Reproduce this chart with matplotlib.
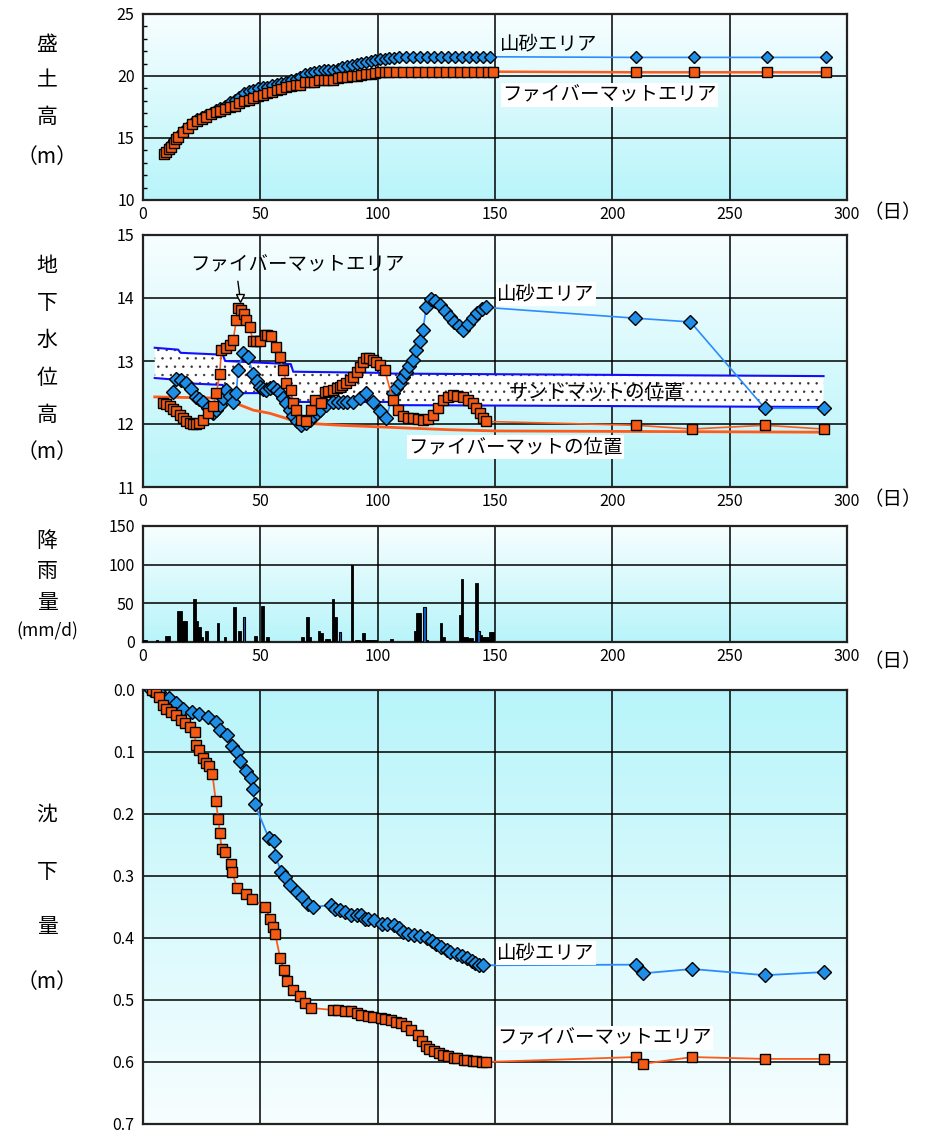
import matplotlib
matplotlib.use('Agg')
import matplotlib.pyplot as plt
import numpy as np

plt.rcParams['font.family'] = ['Noto Sans CJK JP', 'DejaVu Sans']
plt.rcParams['hatch.linewidth'] = 0.5

W, H = 933, 1135

# ---- data: 盛土高 (fill height) ----
days_b1 = [10, 11, 12, 13, 14, 15, 17, 19, 21, 23,
           25, 27, 29, 31, 33, 35, 37, 39, 41, 43,
           45, 47, 49, 51, 53, 55, 57, 59, 61, 63,
           65, 67, 69, 71, 73, 75, 77, 79, 81, 83,
           85, 87, 89, 91, 93, 95, 97, 99, 101, 103,
           105, 107, 109, 112, 115, 118, 121, 124, 127, 130,
           133, 136, 139, 142, 145, 148, 210, 235, 266, 291]
vals_b1 = [13.9, 14.2, 14.5, 14.8, 15.0, 15.2, 15.6, 15.9, 16.25, 16.5,
           16.7, 16.85, 17.0, 17.25, 17.4, 17.6, 17.9, 18.1, 18.3, 18.6,
           18.8, 18.9, 19.0, 19.1, 19.15, 19.25, 19.35, 19.45, 19.55, 19.65,
           19.75, 19.95, 20.15, 20.25, 20.35, 20.4, 20.45, 20.45, 20.5, 20.6,
           20.7, 20.8, 20.9, 21.0, 21.05, 21.15, 21.2, 21.3, 21.35, 21.4,
           21.45, 21.45, 21.5, 21.55, 21.55, 21.55, 21.55, 21.55, 21.55, 21.55,
           21.55, 21.55, 21.55, 21.55, 21.55, 21.55, 21.5, 21.5, 21.5, 21.5]

days_o1 = [9, 10, 11, 12, 13, 14, 15, 17, 19, 21,
           23, 25, 27, 29, 31, 33, 35, 37, 39, 41,
           43, 45, 47, 49, 51, 53, 55, 57, 59, 61,
           63, 65, 67, 69, 71, 73, 75, 77, 79, 81,
           83, 85, 87, 89, 91, 93, 95, 97, 99, 101,
           103, 105, 108, 111, 114, 117, 120, 123, 126, 129,
           132, 135, 138, 141, 144, 147, 149, 210, 235, 266,
           291]
vals_o1 = [13.7, 13.9, 14.1, 14.3, 14.6, 14.9, 15.1, 15.5, 15.8, 16.1,
           16.35, 16.5, 16.7, 16.9, 17.1, 17.2, 17.35, 17.5, 17.6, 17.8,
           17.95, 18.1, 18.25, 18.4, 18.5, 18.6, 18.7, 18.85, 18.95, 19.1,
           19.2, 19.25, 19.3, 19.5, 19.55, 19.55, 19.65, 19.7, 19.7, 19.7,
           19.8, 19.9, 19.95, 20.0, 20.0, 20.05, 20.15, 20.2, 20.25, 20.3,
           20.35, 20.35, 20.35, 20.35, 20.35, 20.35, 20.35, 20.35, 20.35, 20.35,
           20.35, 20.35, 20.35, 20.35, 20.35, 20.35, 20.35, 20.3, 20.3, 20.3,
           20.3]

# ---- data: 地下水位高 (groundwater level) ----
days_b2 = [12.8, 14, 16, 18.5, 20.5, 22.7, 24, 25.6, 27.5, 29.8,
           31, 32.7, 34, 35.5, 37, 38.4, 39.8, 40.5, 42.6, 44.7,
           46.9, 48.5, 49.7, 51, 52.6, 54, 55.4, 57, 58.2, 59.5,
           61.1, 62.5, 63.9, 65.5, 67.5, 69.6, 71, 72.4, 74, 75.3,
           78.1, 81, 83, 85.2, 87, 89.5, 92.3, 95.2, 98, 100.9,
           103.7, 106.5, 108, 109.4, 111, 112.2, 113.5, 115, 116.5, 118,
           119.3, 120.7, 122.9, 124.5, 126.4, 128.5, 130.7, 132.5, 134.5, 136.4,
           138.5, 140.6, 142.5, 144.5, 146.3, 209.6, 233.3, 265, 290]
vals_b2 = [12.51, 12.72, 12.70, 12.65, 12.55, 12.43, 12.40, 12.35, 12.25, 12.17,
           12.22, 12.30, 12.42, 12.54, 12.45, 12.35, 12.49, 12.86, 13.12, 13.07,
           12.80, 12.68, 12.59, 12.56, 12.54, 12.57, 12.59, 12.54, 12.49, 12.42,
           12.33, 12.22, 12.12, 12.04, 11.98, 12.01, 12.06, 12.12, 12.17, 12.22,
           12.30, 12.35, 12.35, 12.35, 12.35, 12.35, 12.41, 12.49, 12.35, 12.20,
           12.09, 12.49, 12.57, 12.65, 12.74, 12.83, 12.92, 13.02, 13.17, 13.32,
           13.49, 13.86, 13.99, 13.95, 13.89, 13.80, 13.70, 13.62, 13.55, 13.49,
           13.58, 13.68, 13.76, 13.82, 13.85, 13.68, 13.62, 12.25, 12.25]

days_o2 = [8.5, 10, 11.4, 12.8, 14.2, 15.6, 17, 18.5, 19.9, 21.3,
           22.7, 24, 25.6, 27.7, 29.8, 31.3, 32.7, 33.4, 35.5, 37,
           38.4, 39.8, 40.5, 41.9, 43, 44, 45.5, 46.9, 48.3, 49.7,
           51.8, 53, 54.7, 56.8, 58.2, 59.7, 61.1, 63.2, 63.9, 65.3,
           67.5, 69.6, 71.7, 73.2, 76, 77.4, 79, 81, 82.5, 83.8,
           85, 86.6, 88, 89.5, 91, 92.3, 93.8, 95.2, 96.5, 98,
           99.5, 100.9, 103, 106.5, 108.7, 110.8, 113, 115, 117, 119.3,
           121.5, 123.6, 125.5, 127.8, 130, 132.1, 134, 136.4, 138.5, 140.6,
           142, 143.5, 145, 146.3, 210, 234, 265, 290]
vals_o2 = [12.33, 12.31, 12.28, 12.24, 12.20, 12.15, 12.09, 12.05, 12.01, 12.0,
           12.0, 12.02, 12.06, 12.17, 12.28, 12.49, 12.80, 13.17, 13.20, 13.25,
           13.33, 13.65, 13.84, 13.81, 13.75, 13.65, 13.54, 13.31, 13.31, 13.31,
           13.41, 13.42, 13.39, 13.23, 13.07, 12.86, 12.65, 12.54, 12.33, 12.22,
           12.06, 12.04, 12.22, 12.38, 12.33, 12.51, 12.52, 12.54, 12.57, 12.59,
           12.62, 12.65, 12.70, 12.75, 12.83, 12.91, 12.98, 13.04, 13.05, 13.02,
           12.98, 12.94, 12.86, 12.38, 12.22, 12.12, 12.10, 12.09, 12.08, 12.06,
           12.08, 12.14, 12.25, 12.38, 12.43, 12.46, 12.45, 12.43, 12.38, 12.33,
           12.26, 12.17, 12.10, 12.04, 11.98, 11.92, 11.98, 11.92]

# sand mat position (top / bottom) and fiber mat position
band_days = [5, 15, 16, 34, 35, 63, 64, 105, 106, 290]
band_top = [13.21, 13.18, 13.13, 13.10, 13.00, 12.95, 12.83, 12.81, 12.80, 12.76]
band_bot = [12.73, 12.70, 12.65, 12.62, 12.49, 12.49, 12.35, 12.35, 12.30, 12.27]
fm_days = [5, 34, 38, 47, 54, 61, 66, 84, 110, 130, 150, 290]
fm_vals = [12.43, 12.41, 12.35, 12.22, 12.17, 12.09, 12.02, 11.98, 11.94, 11.91, 11.89, 11.87]

# ---- data: 降雨量 (rainfall) ----
rain_days = [0, 1, 6, 10, 11, 15, 16, 17, 18, 22,
             23, 24, 25, 27, 32, 35, 39, 41, 48, 51,
             53, 68, 70, 71, 75, 76, 78, 79, 81, 82,
             89, 91, 92, 94, 95, 96, 97, 98, 99, 106,
             116, 117, 118, 121, 127, 128, 135, 136, 137, 138,
             139, 140, 142, 144, 145, 146, 147, 148, 149]
rain_vals = [3, 3, 3, 8, 8, 40, 40, 27, 27, 55,
             27, 19, 7, 14, 25, 6, 45, 14, 8, 46,
             6, 6, 32, 6, 14, 12, 4, 4, 55, 32,
             100, 3, 3, 12, 3, 3, 3, 3, 3, 4,
             14, 37, 37, 3, 25, 6, 35, 81, 6, 6,
             5, 5, 76, 9, 6, 7, 7, 13, 13]
rain2_days = [43, 84, 120, 143]
rain2_vals = [32, 13, 45, 14]

# ---- data: 沈下量 (settlement) ----
days_b4 = [3.5, 7, 11, 14, 17, 21, 24, 27.5, 31, 33,
           36, 38, 40, 41.5, 44, 46, 47, 47.6, 53.5, 56,
           56.3, 59, 60.6, 62.7, 65.5, 67.6, 70.4, 72.5, 80, 82,
           84, 86, 88.7, 91, 93, 94.4, 96, 98.6, 102, 104,
           107, 109, 111, 113, 115.5, 118, 121, 123, 125, 127,
           129.6, 131, 133.8, 136, 138, 140, 141.5, 143, 145, 210,
           213, 234, 265, 290]
vals_b4 = [0, 0.003, 0.013, 0.021, 0.03, 0.035, 0.038, 0.043, 0.051, 0.064,
           0.072, 0.091, 0.10, 0.115, 0.13, 0.142, 0.16, 0.184, 0.238, 0.243,
           0.267, 0.294, 0.302, 0.315, 0.326, 0.334, 0.345, 0.35, 0.347, 0.353,
           0.355, 0.358, 0.363, 0.363, 0.363, 0.369, 0.37, 0.371, 0.377, 0.378,
           0.379, 0.384, 0.39, 0.393, 0.395, 0.397, 0.40, 0.405, 0.409, 0.414,
           0.42, 0.422, 0.425, 0.429, 0.433, 0.437, 0.441, 0.443, 0.444, 0.443,
           0.457, 0.45, 0.46, 0.455]

days_o4 = [4, 5.6, 7, 8.5, 10, 12, 14, 16, 18, 20,
           22, 22.5, 24, 25.4, 26.8, 28.2, 29.6, 31, 32.1, 32.7,
           33.5, 35, 37.3, 38, 40.1, 43.7, 46.5, 52, 54.2, 55.6,
           56.3, 58.5, 59.9, 61.3, 64, 66.9, 69, 71.8, 81, 83,
           86, 88.7, 91, 93, 95.8, 98, 101.4, 103, 105.6, 108,
           110, 112, 114, 117, 119, 120.4, 122, 124, 126, 128,
           130, 132.4, 134, 136.6, 138, 140.8, 142, 144.4, 146, 210,
           213, 234, 265, 290]
vals_o4 = [0, 0.003, 0.011, 0.024, 0.03, 0.035, 0.04, 0.048, 0.053, 0.059,
           0.067, 0.088, 0.096, 0.11, 0.118, 0.123, 0.136, 0.179, 0.208, 0.23,
           0.256, 0.262, 0.28, 0.294, 0.32, 0.329, 0.337, 0.35, 0.369, 0.382,
           0.393, 0.433, 0.452, 0.47, 0.484, 0.494, 0.505, 0.513, 0.516, 0.516,
           0.518, 0.518, 0.521, 0.524, 0.526, 0.527, 0.529, 0.531, 0.532, 0.535,
           0.537, 0.542, 0.548, 0.556, 0.566, 0.574, 0.579, 0.582, 0.585, 0.588,
           0.59, 0.593, 0.594, 0.596, 0.597, 0.598, 0.599, 0.60, 0.60, 0.592,
           0.603, 0.592, 0.595, 0.595]

x_ticks = [0, 50, 100, 150, 200, 250, 300]

# colours
BLUE_M = '#1e8ee6'
BLUE_L = '#2b8cff'
ORANGE_M = '#f55a14'
ORANGE_L = '#ff5a1a'
CYAN = np.array([0.72, 0.96, 0.98])
WHITE = np.array([0.97, 0.995, 1.0])


def px_box(left, top, right, bottom):
    return [left / W, 1 - bottom / H, (right - left) / W, (bottom - top) / H]


def gradient(ax, cyan_at_bottom=True):
    # background fill in axes coordinates, row 0 = bottom of the axes
    t = np.linspace(0, 1, 256)[:, None]
    if not cyan_at_bottom:
        t = 1 - t
    img = CYAN[None, None, :] * (1 - t[:, :, None]) + WHITE[None, None, :] * t[:, :, None]
    ax.imshow(img, aspect='auto', extent=[0, 1, 0, 1], origin='lower',
              transform=ax.transAxes, zorder=0, interpolation='bilinear')


def style(ax, ylo, yhi, yticks, xlabels=True):
    ax.set_xlim(0, 300)
    ax.set_ylim(ylo, yhi)
    ax.set_xticks(x_ticks)
    ax.set_yticks(yticks)
    ax.grid(True, color='black', linewidth=1.1)
    ax.set_axisbelow(True)
    for s in ax.spines.values():
        s.set_linewidth(1.6)
        s.set_color('#222222')
    ax.tick_params(length=0, labelsize=11.5, pad=6)
    ax.tick_params(axis='x', pad=4)
    if not xlabels:
        ax.set_xticklabels([])


def vlabel(chars, ys):
    for c, y in zip(chars, ys):
        fig.text(47 / W, 1 - y / H, c, ha='center', va='center', fontsize=15)


def day_unit(y):
    fig.text(893 / W, 1 - y / H, '（日）', ha='center', va='center', fontsize=14)


box = dict(facecolor='white', edgecolor='none', pad=1)

fig = plt.figure(figsize=(W / 100, H / 100), dpi=100)

# ---------- panel 1: 盛土高 ----------
ax1 = fig.add_axes(px_box(143, 14, 847, 200))
gradient(ax1)
style(ax1, 10, 25, [10, 15, 20, 25])
ax1.set_yticks(np.arange(10, 25, 1), minor=True)
ax1.tick_params(axis='y', which='minor', length=3, direction='in', width=1)
ax1.plot(days_b1, vals_b1, '-', color=BLUE_L, lw=1.2, marker='D', ms=6,
         mfc=BLUE_M, mec='black', mew=1, zorder=3)
ax1.plot(days_o1, vals_o1, '-', color=ORANGE_L, lw=1.8, marker='s', ms=6.5,
         mfc=ORANGE_M, mec='black', mew=1, zorder=4)
ax1.text(152, 22.6, '山砂エリア', fontsize=14, va='center', ha='left', zorder=5)
ax1.text(153, 18.47, 'ファイバーマットエリア', fontsize=14, va='center', ha='left',
         bbox=box, zorder=5)
vlabel(['盛', '土', '高', '（m）'], [45, 80, 117, 157])
day_unit(213)

# ---------- panel 2: 地下水位高 ----------
ax2 = fig.add_axes(px_box(143, 235, 847, 487))
gradient(ax2)
style(ax2, 11, 15, [11, 12, 13, 14, 15])
ax2.fill_between(band_days, band_bot, band_top, facecolor='white',
                 edgecolor='#333333', hatch='..', linewidth=0, zorder=1)
ax2.plot(band_days, band_top, '-', color='#1010ff', lw=1.5, zorder=2)
ax2.plot(band_days, band_bot, '-', color='#1010ff', lw=1.5, zorder=2)
ax2.plot(fm_days, fm_vals, '-', color=ORANGE_L, lw=2, zorder=2)
ax2.plot(days_b2, vals_b2, '-', color=BLUE_L, lw=1.2, marker='D', ms=7,
         mfc=BLUE_M, mec='black', mew=1, zorder=3)
ax2.plot(days_o2, vals_o2, '-', color=ORANGE_L, lw=1.2, marker='s', ms=7,
         mfc=ORANGE_M, mec='black', mew=1, zorder=4)
ax2.annotate('ファイバーマットエリア', xy=(41.5, 13.97), xytext=(20, 14.52),
             fontsize=14, va='center', ha='left', zorder=5,
             arrowprops=dict(arrowstyle='-', color='black', lw=1,
                             relpos=(0.22, 0)))
ax2.plot([41.5], [14.0], marker='v', ms=6, mfc='white', mec='black', mew=1, zorder=5)
ax2.text(151, 14.06, '山砂エリア', fontsize=14, va='center', ha='left',
         bbox=box, zorder=5)
ax2.text(156, 12.5, 'サンドマットの位置', fontsize=14, va='center', ha='left', zorder=5)
ax2.text(113, 11.63, 'ファイバーマットの位置', fontsize=14, va='center', ha='left',
         bbox=box, zorder=5)
vlabel(['地', '下', '水', '位', '高', '（m）'], [266, 303, 340, 378, 415, 452])
day_unit(500)

# ---------- panel 3: 降雨量 ----------
ax3 = fig.add_axes(px_box(143, 526, 847, 642))
gradient(ax3)
style(ax3, 0, 150, [0, 50, 100, 150])
ax3.bar(rain_days, rain_vals, width=1.1, color='black', edgecolor='black',
        linewidth=0.6, zorder=3)
ax3.bar(rain2_days, rain2_vals, width=1.1, color='#1060c0', edgecolor='black',
        linewidth=0.8, zorder=3)
vlabel(['降', '雨', '量'], [541, 571, 603])
fig.text(47 / W, 1 - 631 / H, '(mm/d)', ha='center', va='center', fontsize=12.5)
day_unit(662)

# ---------- panel 4: 沈下量 ----------
ax4 = fig.add_axes(px_box(143, 690, 847, 1124))
gradient(ax4, cyan_at_bottom=False)
style(ax4, 0.7, 0.0, [0.0, 0.1, 0.2, 0.3, 0.4, 0.5, 0.6, 0.7], xlabels=False)
ax4.set_yticklabels(['%.1f' % v for v in [0.0, 0.1, 0.2, 0.3, 0.4, 0.5, 0.6, 0.7]])
ax4.plot(days_b4, vals_b4, '-', color=BLUE_L, lw=1.3, marker='D', ms=7.5,
         mfc=BLUE_M, mec='black', mew=1, zorder=3)
ax4.plot(days_o4, vals_o4, '-', color=ORANGE_L, lw=1.3, marker='s', ms=7.5,
         mfc=ORANGE_M, mec='black', mew=1, zorder=4)
ax4.text(151, 0.424, '山砂エリア', fontsize=14, va='center', ha='left',
         bbox=box, zorder=5)
ax4.text(151, 0.561, 'ファイバーマットエリア', fontsize=14, va='center', ha='left',
         bbox=box, zorder=5)
vlabel(['沈', '下', '量', '（m）'], [815, 872, 927, 982])

fig.savefig('out.png', dpi=100)
